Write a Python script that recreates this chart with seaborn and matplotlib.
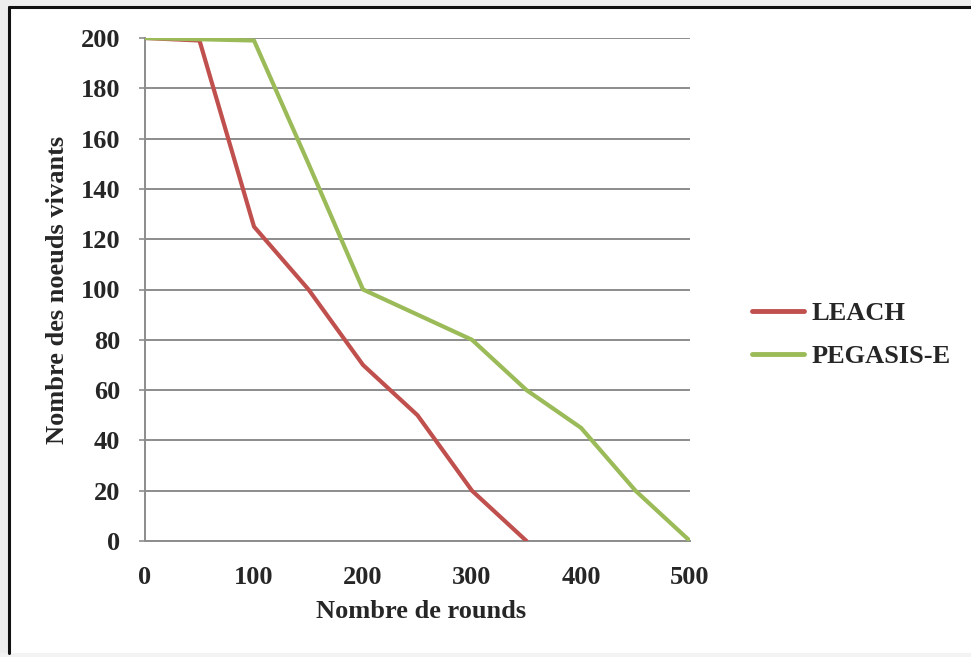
import matplotlib
matplotlib.use("Agg")
import matplotlib.pyplot as plt
from matplotlib.lines import Line2D
from matplotlib.patches import Rectangle
import seaborn as sns
import pandas as pd

# Rounds and surviving nodes per protocol
leach_rounds = [0, 50, 100, 150, 200, 250, 300, 350]
leach_alive = [200, 199, 125, 100, 70, 50, 20, 0]

pegasis_rounds = [0, 100, 150, 200, 250, 300, 350, 400, 450, 500]
pegasis_alive = [200, 199, 150, 100, 90, 80, 60, 45, 20, 0]

series_names = ["LEACH", "PEGASIS-E"]
series_colors = ["#C0504D", "#9BBB59"]

x_ticks = [0, 100, 200, 300, 400, 500]
y_ticks = [0, 20, 40, 60, 80, 100, 120, 140, 160, 180, 200]

df = pd.concat([
    pd.DataFrame({"rounds": leach_rounds, "alive": leach_alive, "protocol": series_names[0]}),
    pd.DataFrame({"rounds": pegasis_rounds, "alive": pegasis_alive, "protocol": series_names[1]}),
], ignore_index=True)

sns.set_theme(style="white")
plt.rcParams["font.family"] = ["Liberation Serif", "DejaVu Serif"]
plt.rcParams["font.weight"] = "bold"

FS = 19
W, H = 971, 657
fig = plt.figure(figsize=(W / 100, H / 100), dpi=100)
fig.patch.set_facecolor("white")

# light outer margin and dark frame on top/left
fig.add_artist(Rectangle((0, 1 - 6 / H), 1, 6 / H, transform=fig.transFigure,
                         facecolor="#eeeeee", edgecolor="none", zorder=0))
fig.add_artist(Rectangle((0, 0), 8 / W, 1, transform=fig.transFigure,
                         facecolor="#eeeeee", edgecolor="none", zorder=0))
fig.add_artist(Rectangle((0, 0), 1, 4 / H, transform=fig.transFigure,
                         facecolor="#f3f3f3", edgecolor="none", zorder=0))
fig.add_artist(Line2D([9 / W, 1], [1 - 7 / H, 1 - 7 / H], transform=fig.transFigure,
                      color="#111111", lw=2.2))
fig.add_artist(Line2D([9 / W, 9 / W], [4 / H, 1 - 7 / H], transform=fig.transFigure,
                      color="#111111", lw=2.2))

ax = fig.add_axes([145 / W, 1 - 541 / H, (690 - 145) / W, (541 - 38) / H])
ax.set_facecolor("white")

sns.lineplot(data=df, x="rounds", y="alive", hue="protocol",
             palette=dict(zip(series_names, series_colors)),
             linewidth=3.0, ax=ax, legend=False, sort=False, zorder=3)

ax.set_xlim(0, 500)
ax.set_ylim(0, 200)
ax.set_xticks(x_ticks)
ax.set_yticks(y_ticks)
ax.set_xticklabels([str(v) for v in x_ticks], fontsize=FS, fontweight="bold")
ax.set_yticklabels([str(v) for v in y_ticks], fontsize=FS, fontweight="bold")

ax.yaxis.grid(True, color="#8c8c8c", linewidth=1.4)
ax.xaxis.grid(False)
ax.set_axisbelow(True)
for side in ["top", "right"]:
    ax.spines[side].set_visible(False)
for side in ["left", "bottom"]:
    ax.spines[side].set_color("#8c8c8c")
    ax.spines[side].set_linewidth(1.4)
ax.tick_params(axis="y", length=4, width=1.2, color="#8c8c8c", pad=14, direction="out", left=True)
ax.tick_params(axis="x", length=0, pad=18)

ax.set_xlabel("Nombre de rounds", fontsize=FS, fontweight="bold")
ax.set_ylabel("Nombre des noeuds vivants", fontsize=FS, fontweight="bold")
ax.xaxis.set_label_coords(421 / W, 1 - 612 / H, transform=fig.transFigure)
ax.yaxis.set_label_coords(58 / W, 1 - 290 / H, transform=fig.transFigure)
ax.xaxis.label.set_va("center")
ax.yaxis.label.set_va("center")

handles = [Line2D([], [], color=c, lw=3.5) for c in series_colors]
fig.legend(handles, series_names, loc="center left",
           bbox_to_anchor=(739 / W, 1 - 335 / H), frameon=False,
           prop={"family": "Liberation Serif", "weight": "bold", "size": FS},
           handlelength=1.95, handletextpad=0.3, labelspacing=0.75, borderpad=0)

fig.savefig("out.png", dpi=100, facecolor=fig.get_facecolor())
